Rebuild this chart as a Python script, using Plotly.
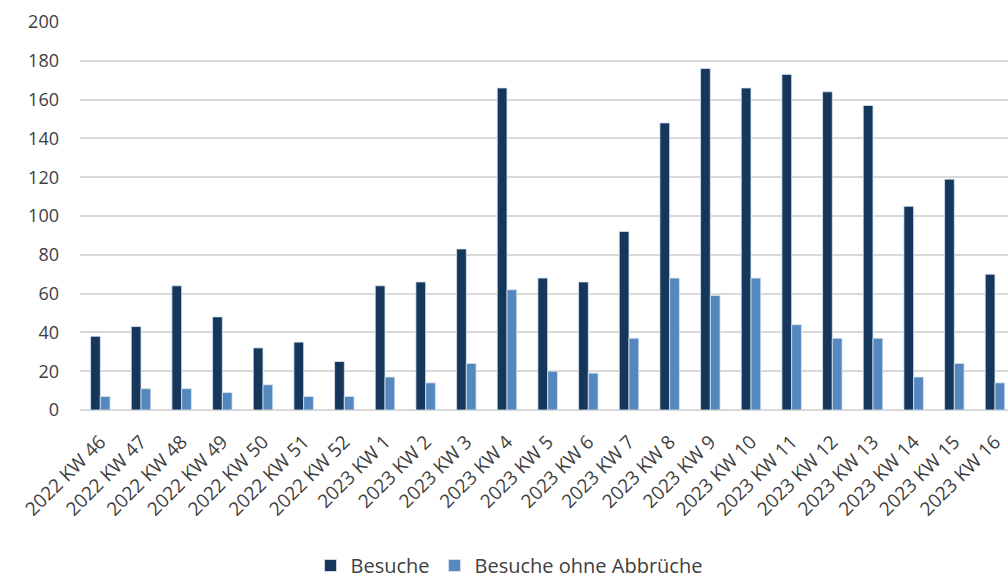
import plotly.graph_objects as go

weeks = [
    "2022 KW 46", "2022 KW 47", "2022 KW 48", "2022 KW 49", "2022 KW 50",
    "2022 KW 51", "2022 KW 52", "2023 KW 1", "2023 KW 2", "2023 KW 3",
    "2023 KW 4", "2023 KW 5", "2023 KW 6", "2023 KW 7", "2023 KW 8",
    "2023 KW 9", "2023 KW 10", "2023 KW 11", "2023 KW 12", "2023 KW 13",
    "2023 KW 14", "2023 KW 15", "2023 KW 16",
]
besuche = [38, 43, 64, 48, 32, 35, 25, 64, 66, 83, 166, 68, 66, 92, 148,
           176, 166, 173, 164, 157, 105, 119, 70]
besuche_ohne_abbrueche = [7, 11, 11, 9, 13, 7, 7, 17, 14, 24, 62, 20, 19, 37, 68,
                          59, 68, 44, 37, 37, 17, 24, 14]
y_ticks = [0, 20, 40, 60, 80, 100, 120, 140, 160, 180, 200]

FONT = "Open Sans"
TEXT_COLOR = "#404040"
GRID_COLOR = "#D9D9D9"

fig = go.Figure()
fig.add_trace(go.Bar(
    x=weeks, y=besuche, name="Besuche",
    marker=dict(color="#15375C", line=dict(color="#DDE6F0", width=0.8)),
))
fig.add_trace(go.Bar(
    x=weeks, y=besuche_ohne_abbrueche, name="Besuche ohne Abbrüche",
    marker=dict(color="#5588BF", line=dict(color="#DDE6F0", width=0.8)),
))

fig.update_layout(
    width=1008, height=585,
    margin=dict(l=80, r=0, t=22, b=175),
    paper_bgcolor="white", plot_bgcolor="white",
    barmode="group", bargap=0.52, bargroupgap=0,
    font=dict(family=FONT, size=18, color=TEXT_COLOR),
    showlegend=True,
    legend=dict(
        orientation="h", xref="container", yref="container",
        x=0.505, xanchor="center", y=-0.008, yanchor="bottom",
        font=dict(family=FONT, size=20, color=TEXT_COLOR),
        itemwidth=30, traceorder="normal",
    ),
    xaxis=dict(
        type="category", range=[-0.5, 22.32],
        tickangle=-45, showgrid=False, ticks="",
        showline=False, ticklabelstandoff=16,
        tickfont=dict(family=FONT, size=19, color=TEXT_COLOR),
    ),
    yaxis=dict(
        range=[0, 200], tickvals=y_ticks, showgrid=True,
        gridcolor=GRID_COLOR, gridwidth=2, zeroline=True,
        zerolinecolor=GRID_COLOR, zerolinewidth=2, ticks="",
        ticklabelstandoff=20,
        tickfont=dict(family=FONT, size=18, color=TEXT_COLOR),
    ),
)

fig.write_html("out.html")
